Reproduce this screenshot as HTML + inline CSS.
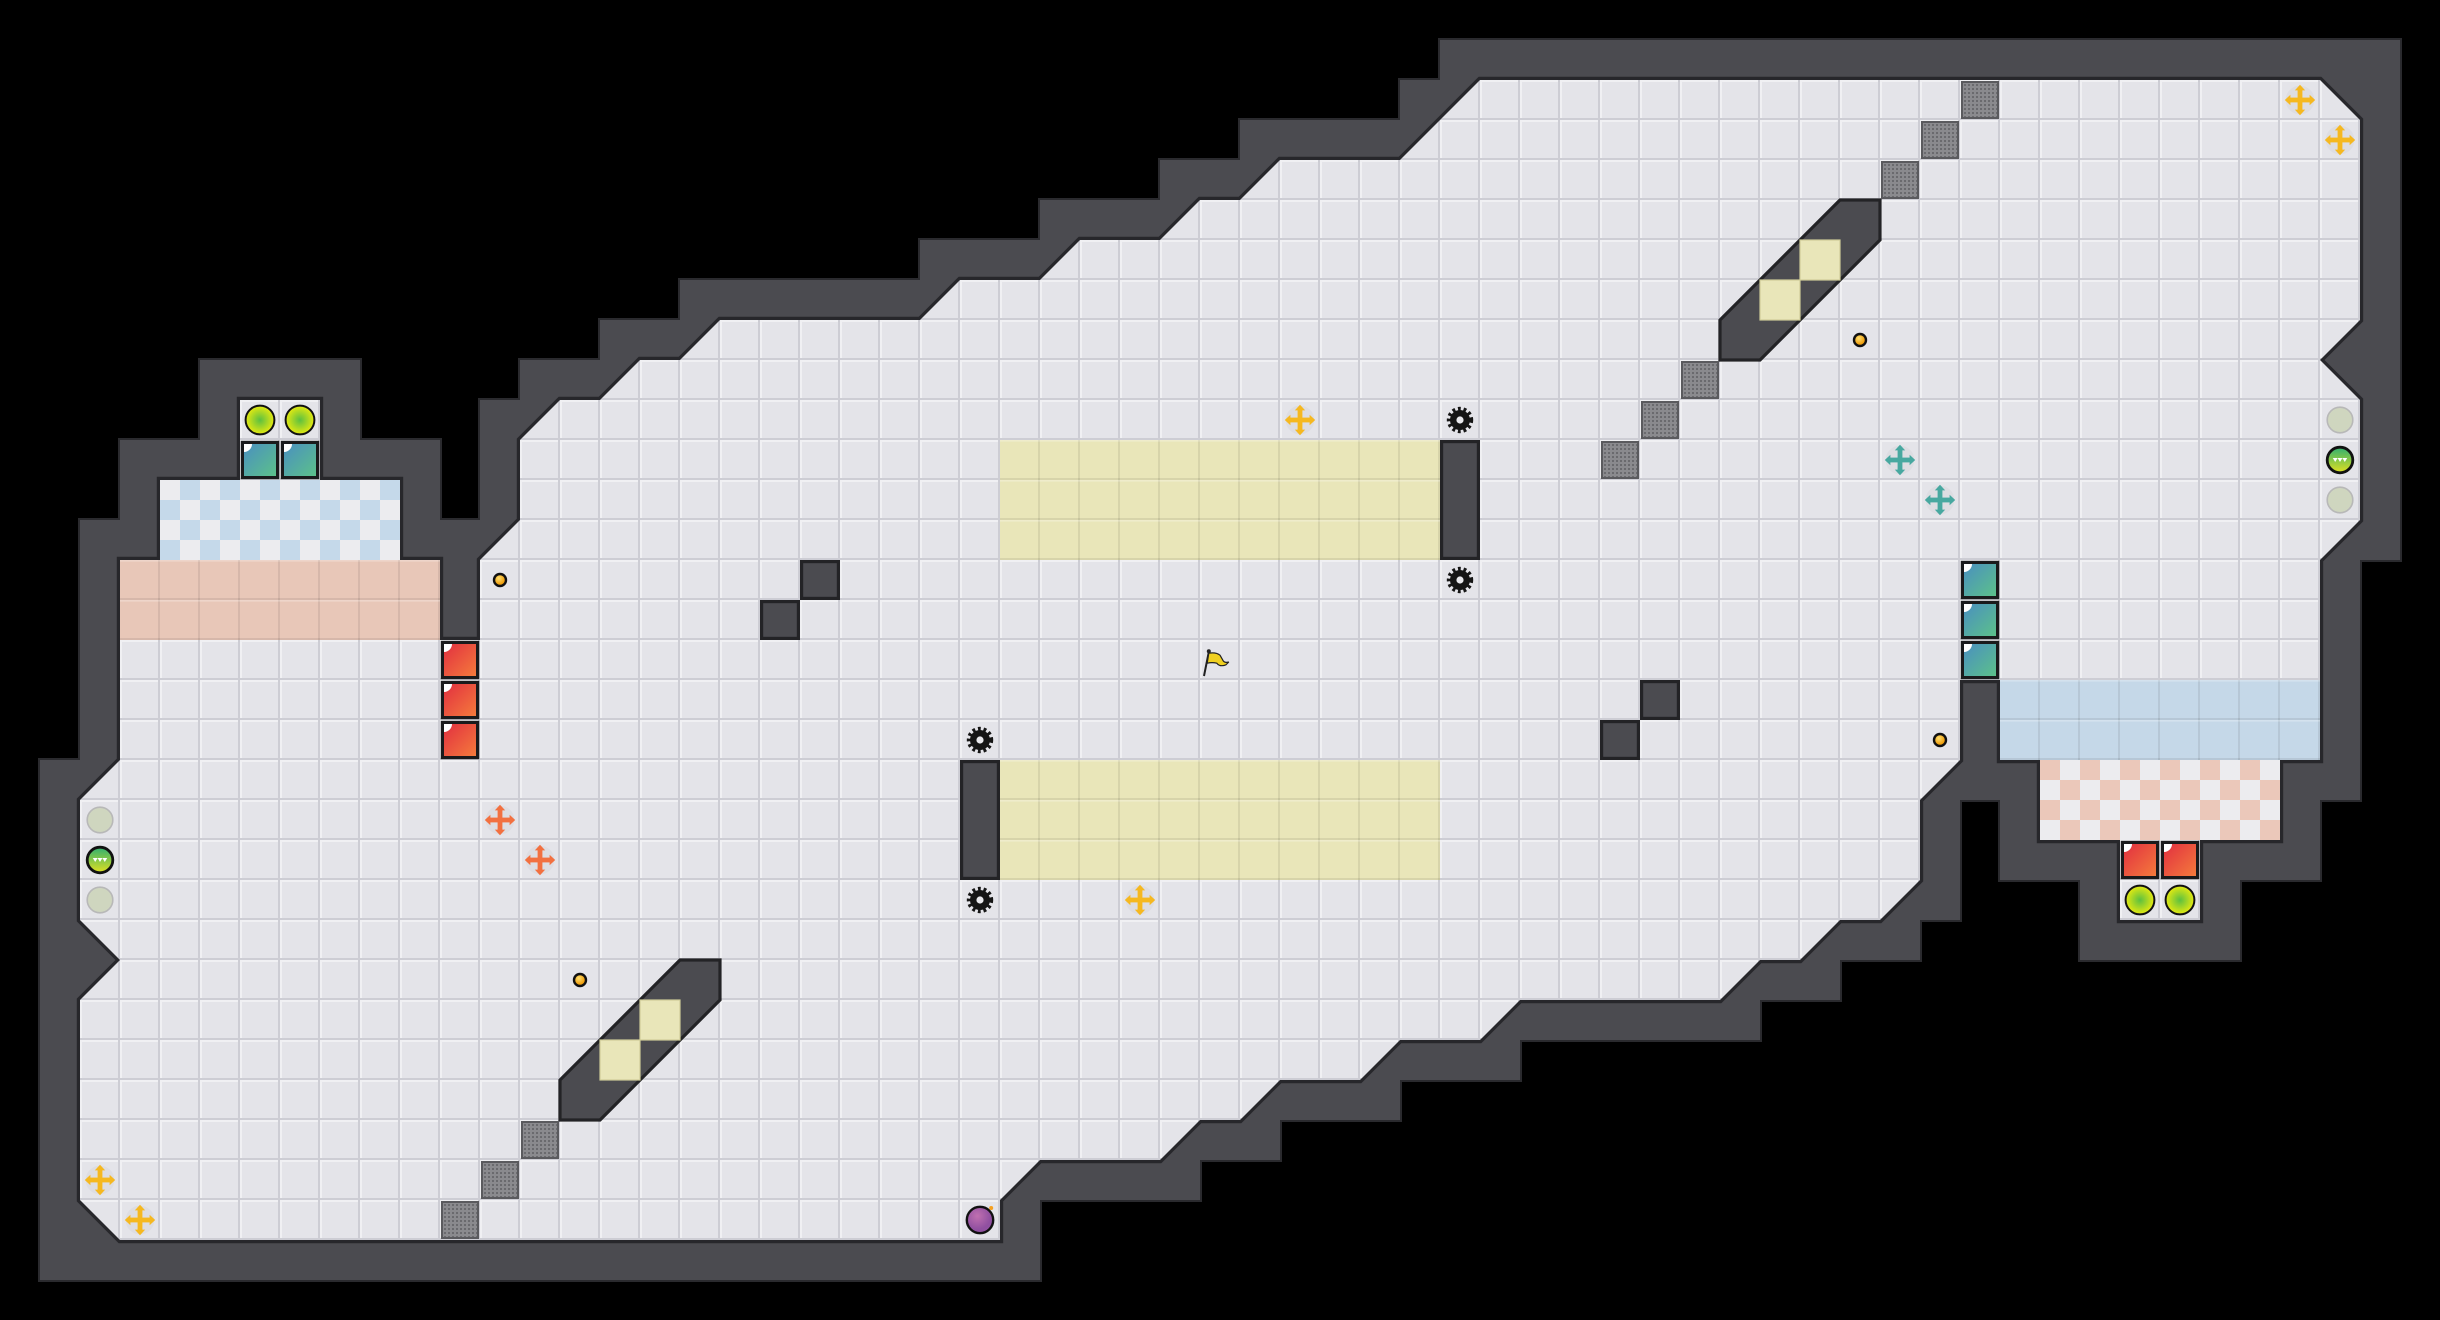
<!DOCTYPE html>
<html><head><meta charset="utf-8"><style>
html,body{margin:0;padding:0;background:#000;}
svg{display:block;}
</style></head><body>
<svg id="S" width="2440" height="1320" viewBox="0 0 2440 1320" xmlns="http://www.w3.org/2000/svg">
<defs>
<pattern id="fl" width="1" height="1" patternUnits="userSpaceOnUse">
<rect width="1" height="1" fill="#e4e4e9"/>
<rect x="0" y="0" width="1" height="0.05" fill="#f0f0f3"/>
<rect x="0" y="0" width="0.05" height="1" fill="#f0f0f3"/>
<rect x="0" y="0.95" width="1" height="0.05" fill="#cdcdd4"/>
<rect x="0.95" y="0" width="0.05" height="1" fill="#cdcdd4"/>
</pattern>
<pattern id="gl" width="1" height="1" patternUnits="userSpaceOnUse">
<rect x="0" y="0.95" width="1" height="0.05" fill="rgba(0,0,0,0.08)"/>
<rect x="0.95" y="0" width="0.05" height="1" fill="rgba(0,0,0,0.08)"/>
<rect x="0" y="0" width="1" height="0.04" fill="rgba(255,255,255,0.25)"/>
</pattern>
<pattern id="cb" width="1" height="1" patternUnits="userSpaceOnUse">
<rect width="1" height="1" fill="#ececef"/>
<rect x="0.5" width="0.5" height="0.5" fill="#c5d9ea"/>
<rect y="0.5" width="0.5" height="0.5" fill="#c5d9ea"/>
</pattern>
<pattern id="cp" width="1" height="1" patternUnits="userSpaceOnUse">
<rect width="1" height="1" fill="#ececef"/>
<rect width="0.5" height="0.5" fill="#ebc8ba"/>
<rect x="0.5" y="0.5" width="0.5" height="0.5" fill="#ebc8ba"/>
</pattern>
<linearGradient id="rg" x1="0" y1="0" x2="1" y2="1"><stop offset="0" stop-color="#e23040"/><stop offset="1" stop-color="#f47a3c"/></linearGradient>
<linearGradient id="tg" x1="0" y1="0" x2="1" y2="1"><stop offset="0" stop-color="#4a90c0"/><stop offset="1" stop-color="#5cc08a"/></linearGradient>
<radialGradient id="yg"><stop offset="0" stop-color="#5cc040"/><stop offset="1" stop-color="#e6ea10"/></radialGradient>
<radialGradient id="cg" cx="0.4" cy="0.35"><stop offset="0" stop-color="#ffe070"/><stop offset="1" stop-color="#f0a010"/></radialGradient>
<radialGradient id="pg" cx="0.4" cy="0.35"><stop offset="0" stop-color="#c070b0"/><stop offset="1" stop-color="#9050a0"/></radialGradient>
<linearGradient id="mg" x1="0" y1="0" x2="0" y2="1"><stop offset="0" stop-color="#30b070"/><stop offset="1" stop-color="#e0e020"/></linearGradient>
<pattern id="mesh" width="0.1" height="0.1" patternUnits="userSpaceOnUse">
<rect width="0.1" height="0.1" fill="#8a8a8e"/><rect width="0.05" height="0.05" fill="#6a6a6e"/>
</pattern>
<g id="cross">
<circle r="0.36" fill="#d9d9de" opacity="0.6"/>
<rect x="-0.3" y="-0.06" width="0.6" height="0.12" fill="currentColor"/>
<rect x="-0.06" y="-0.3" width="0.12" height="0.6" fill="currentColor"/>
<path d="M-0.38 0 L-0.24 -0.13 L-0.24 0.13Z M0.38 0 L0.24 -0.13 L0.24 0.13Z M0 -0.38 L-0.13 -0.24 L0.13 -0.24Z M0 0.38 L-0.13 0.24 L0.13 0.24Z" fill="currentColor"/>
</g>
<g id="gear">
<circle r="0.28" fill="none" stroke="#151515" stroke-width="0.1" stroke-dasharray="0.07 0.07"/>
<circle r="0.25" fill="#151515"/>
<circle r="0.09" fill="#e8e8ec"/>
</g>
<g id="rb">
<rect x="0.02" y="0.02" width="0.96" height="0.96" fill="#1a1a1c"/>
<rect x="0.1" y="0.1" width="0.8" height="0.8" fill="url(#rg)"/>
<path d="M0.1 0.1 h0.2 a0.2 0.2 0 0 1 -0.2 0.2z" fill="#fff"/>
</g>
<g id="tb">
<rect x="0.02" y="0.02" width="0.96" height="0.96" fill="#1a1a1c"/>
<rect x="0.1" y="0.1" width="0.8" height="0.8" fill="url(#tg)"/>
<path d="M0.1 0.1 h0.2 a0.2 0.2 0 0 1 -0.2 0.2z" fill="#fff"/>
</g>
<g id="yc"><circle r="0.36" fill="url(#yg)" stroke="#111" stroke-width="0.05"/></g>
<g id="coin"><circle r="0.15" fill="url(#cg)" stroke="#111" stroke-width="0.06"/></g>
<g id="gc"><circle r="0.32" fill="#cfd6bf" stroke="#b8b8b8" stroke-width="0.04"/></g>
<g id="mc"><circle r="0.32" fill="url(#mg)" stroke="#111" stroke-width="0.07"/><path d="M-0.18 -0.05 h0.36 l-0.06 0.1 l-0.06 -0.1 l-0.06 0.1 l-0.06 -0.1 l-0.06 0.1z" fill="#fff"/></g>
<polygon id="floor" points="3,14 4,14 4,12 6,12 6,10 8,10 8,12 10,12 10,14 11,14 11,16 12,16 12,14 13,13 13,11 14,10 15,10 16,9 17,9 18,8 23,8 24,7 26,7 27,6 29,6 30,5 31,5 32,4 35,4 37,2 58,2 59,3 59,8 58,9 59,10 59,13 58,14 58,19 57,19 57,21 55,21 55,23 53,23 53,21 51,21 51,19 50,19 50,17 49,17 49,19 48,20 48,22 47,23 46,23 45,24 44,24 43,25 38,25 37,26 35,26 34,27 32,27 31,28 30,28 29,29 26,29 25,30 25,31 3,31 2,30 2,25 3,24 2,23 2,20 3,19"/>
</defs>
<rect width="2440" height="1320" fill="#000"/>
<g transform="scale(40)">
<g id="wallOut" fill="#2a2a2e"><rect x="58.95" y="0.95" width="1.1" height="2.1"/><rect x="0.95" y="29.95" width="1.1" height="2.1"/></g>
<g id="wallIn" fill="#4b4b50"><rect x="59" y="1" width="1" height="2"/><rect x="1" y="30" width="1" height="2"/></g>
<use href="#floor" fill="none" stroke="#27272b" stroke-width="0.16" stroke-linejoin="miter"/>
<use href="#floor" fill="url(#fl)"/>

<rect x="4" y="12" width="6" height="2" fill="url(#cb)"/>
<rect x="3" y="14" width="8" height="2" fill="#e8c7b8"/>
<rect x="3" y="14" width="8" height="2" fill="url(#gl)"/>
<rect x="50" y="17" width="8" height="2" fill="#c5d8e8"/>
<rect x="50" y="17" width="8" height="2" fill="url(#gl)"/>
<rect x="51" y="19" width="6" height="2" fill="url(#cp)"/>
<rect x="25" y="11" width="11" height="3" fill="#e9e6b9"/>
<rect x="25" y="11" width="11" height="3" fill="url(#gl)"/>
<rect x="25" y="19" width="11" height="3" fill="#e9e6b9"/>
<rect x="25" y="19" width="11" height="3" fill="url(#gl)"/>

<g fill="#4b4b50" stroke="#232326" stroke-width="0.08">
<rect x="36.04" y="11.04" width="0.92" height="2.92"/>
<rect x="24.04" y="19.04" width="0.92" height="2.92"/>
<rect x="19.04" y="15.04" width="0.92" height="0.92"/>
<rect x="20.04" y="14.04" width="0.92" height="0.92"/>
<rect x="40.04" y="18.04" width="0.92" height="0.92"/>
<rect x="41.04" y="17.04" width="0.92" height="0.92"/>
<polygon points="45,6 46,5 47,5 47,6 46,7 45,8 44,9 43,9 43,8 44,7"/>
<polygon points="16,25 17,24 18,24 18,25 17,26 16,27 15,28 14,28 14,27 15,26"/>
</g>
<g fill="#e9e6b9" stroke="#cfcc98" stroke-width="0.03">
<rect x="45" y="6" width="1" height="1"/><rect x="44" y="7" width="1" height="1"/>
<rect x="16" y="25" width="1" height="1"/><rect x="15" y="26" width="1" height="1"/>
</g>
<g fill="url(#mesh)" stroke="#5a5a5e" stroke-width="0.05">
<rect x="49.05" y="2.05" width="0.9" height="0.9"/><rect x="48.05" y="3.05" width="0.9" height="0.9"/><rect x="47.05" y="4.05" width="0.9" height="0.9"/>
<rect x="42.05" y="9.05" width="0.9" height="0.9"/><rect x="41.05" y="10.05" width="0.9" height="0.9"/><rect x="40.05" y="11.05" width="0.9" height="0.9"/>
<rect x="13.05" y="28.05" width="0.9" height="0.9"/><rect x="12.05" y="29.05" width="0.9" height="0.9"/><rect x="11.05" y="30.05" width="0.9" height="0.9"/>
</g>
<use href="#gear" x="36.5" y="10.5"/><use href="#gear" x="36.5" y="14.5"/>
<use href="#gear" x="24.5" y="18.5"/><use href="#gear" x="24.5" y="22.5"/>
<use href="#rb" x="11" y="16"/><use href="#rb" x="11" y="17"/><use href="#rb" x="11" y="18"/>
<use href="#rb" x="53" y="21"/><use href="#rb" x="54" y="21"/>
<use href="#tb" x="6" y="11"/><use href="#tb" x="7" y="11"/>
<use href="#tb" x="49" y="14"/><use href="#tb" x="49" y="15"/><use href="#tb" x="49" y="16"/>
<use href="#yc" x="6.5" y="10.5"/><use href="#yc" x="7.5" y="10.5"/>
<use href="#yc" x="53.5" y="22.5"/><use href="#yc" x="54.5" y="22.5"/>
<g style="color:#f5b820">
<use href="#cross" x="32.5" y="10.5"/><use href="#cross" x="28.5" y="22.5"/>
<use href="#cross" x="57.5" y="2.5"/><use href="#cross" x="58.5" y="3.5"/>
<use href="#cross" x="2.5" y="29.5"/><use href="#cross" x="3.5" y="30.5"/>
</g>
<g style="color:#48a8a0"><use href="#cross" x="47.5" y="11.5"/><use href="#cross" x="48.5" y="12.5"/></g>
<g style="color:#f27040"><use href="#cross" x="12.5" y="20.5"/><use href="#cross" x="13.5" y="21.5"/></g>
<use href="#coin" x="12.5" y="14.5"/><use href="#coin" x="46.5" y="8.5"/>
<use href="#coin" x="48.5" y="18.5"/><use href="#coin" x="14.5" y="24.5"/>
<use href="#gc" x="2.5" y="20.5"/><use href="#mc" x="2.5" y="21.5"/><use href="#gc" x="2.5" y="22.5"/>
<use href="#gc" x="58.5" y="10.5"/><use href="#mc" x="58.5" y="11.5"/><use href="#gc" x="58.5" y="12.5"/>
<circle cx="24.5" cy="30.5" r="0.33" fill="url(#pg)" stroke="#111" stroke-width="0.06"/>
<circle cx="24.78" cy="30.2" r="0.05" fill="#f5a020"/>
<g transform="translate(30,16)">
<line x1="0.1" y1="0.9" x2="0.22" y2="0.3" stroke="#222" stroke-width="0.05"/>
<circle cx="0.22" cy="0.28" r="0.05" fill="#222"/>
<path d="M0.22 0.33 Q0.4 0.3 0.5 0.38 L0.58 0.52 Q0.62 0.58 0.72 0.55 L0.65 0.62 Q0.5 0.68 0.42 0.58 Q0.3 0.55 0.18 0.58Z" fill="#f0d020" stroke="#222" stroke-width="0.03"/>
</g>
</g>
</svg>
<script>
(function(){
var pts=document.getElementById('floor').getAttribute('points').trim().split(/\s+/).map(function(p){return p.split(',').map(Number);});
function inside(x,y){var c=false;for(var i=0,j=pts.length-1;i<pts.length;j=i++){var xi=pts[i][0],yi=pts[i][1],xj=pts[j][0],yj=pts[j][1];if(((yi>y)!=(yj>y))&&(x<(xj-xi)*(y-yi)/(yj-yi)+xi))c=!c;}return c;}
function onEdge(x,y){for(var i=0,j=pts.length-1;i<pts.length;j=i++){var ax=pts[j][0],ay=pts[j][1],bx=pts[i][0],by=pts[i][1];var cr=(bx-ax)*(y-ay)-(by-ay)*(x-ax);if(Math.abs(cr)<1e-6&&x>=Math.min(ax,bx)-1e-6&&x<=Math.max(ax,bx)+1e-6&&y>=Math.min(ay,by)-1e-6&&y<=Math.max(ay,by)+1e-6)return true;}return false;}
var ns='http://www.w3.org/2000/svg',go=document.getElementById('wallOut'),gi=document.getElementById('wallIn');
for(var x=0;x<61;x++)for(var y=0;y<33;y++){var cx=x+0.5,cy=y+0.5;if(onEdge(cx,cy)||!inside(cx,cy))continue;
var r=document.createElementNS(ns,'rect');r.setAttribute('x',x-1.05);r.setAttribute('y',y-1.05);r.setAttribute('width',3.1);r.setAttribute('height',3.1);go.appendChild(r);
var q=document.createElementNS(ns,'rect');q.setAttribute('x',x-1);q.setAttribute('y',y-1);q.setAttribute('width',3);q.setAttribute('height',3);gi.appendChild(q);}
})();
</script>
</body></html>
